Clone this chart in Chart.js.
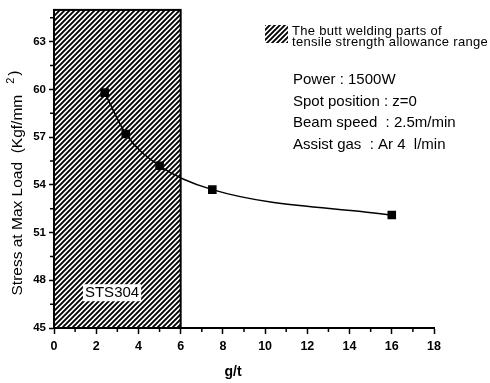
<!DOCTYPE html>
<html>
<head>
<meta charset="utf-8">
<script src="https://cdn.jsdelivr.net/npm/chart.js@4/dist/chart.umd.min.js"></script>
<style>
  html, body { margin: 0; padding: 0; background: #fff; }
</style>
</head>
<body>
<canvas id="chart" width="490" height="383"></canvas>
<script>
// Data
const gtValues = [2.4, 3.4, 5.0, 7.5, 16];
const stressValues = [59.8, 57.2, 55.2, 53.7, 52.1];
const allowanceRange = [0, 6];          // hatched g/t range
const xTicks = [0, 2, 4, 6, 8, 10, 12, 14, 16, 18];
const yTicks = [45, 48, 51, 54, 57, 60, 63];
const legendLines = ['The butt welding parts of', 'tensile strength allowance range'];
const conditionLines = ['Power : 1500W', 'Spot position : z=0', 'Beam speed  : 2.5m/min', 'Assist gas  : Ar 4  l/min'];
const materialLabel = 'STS304';
const xTitle = 'g/t';
const yTitleParts = ['Stress at Max Load  (Kgf/mm', '2', ')'];

const FONT = '"Liberation Sans", Arial, sans-serif';

// Diagonal hatch pattern (//// lines)
function makeHatch(ctx) {
    const c = document.createElement('canvas');
    c.width = 5; c.height = 5;
    const g = c.getContext('2d');
    g.fillStyle = '#fff';
    g.fillRect(0, 0, 5, 5);
    g.strokeStyle = '#000';
    g.lineWidth = 1.9;
    g.beginPath();
    g.moveTo(-1, 6); g.lineTo(6, -1);
    g.moveTo(-1, 1); g.lineTo(1, -1);
    g.moveTo(4, 6); g.lineTo(6, 4);
    g.stroke();
    return ctx.createPattern(c, 'repeat');
}

// Hatched allowance band + STS304 label
const bandPlugin = {
    id: 'band',
    beforeDatasetsDraw(chart) {
        const { ctx, chartArea, scales } = chart;
        const x0 = scales.x.getPixelForValue(allowanceRange[0]);
        const x1 = scales.x.getPixelForValue(allowanceRange[1]);
        ctx.save();
        ctx.fillStyle = makeHatch(ctx);
        ctx.fillRect(x0, chartArea.top, x1 - x0, chartArea.bottom - chartArea.top);
        ctx.strokeStyle = '#000';
        ctx.lineWidth = 2;
        ctx.strokeRect(x0, chartArea.top, x1 - x0, chartArea.bottom - chartArea.top);
        ctx.restore();
    },
    afterDatasetsDraw(chart) {
        const { ctx, scales } = chart;
        ctx.save();
        ctx.font = '15px ' + FONT;
        const cx = scales.x.getPixelForValue(2.75);
        const cy = scales.y.getPixelForValue(47.25);
        const w = ctx.measureText(materialLabel).width + 4;
        ctx.fillStyle = '#fff';
        ctx.fillRect(cx - w / 2, cy - 8, w, 17);
        ctx.fillStyle = '#000';
        ctx.textAlign = 'center';
        ctx.textBaseline = 'middle';
        ctx.fillText(materialLabel, cx, cy + 1);
        ctx.restore();
    }
};

// Minor ticks halfway between the major ones
const minorTicksPlugin = {
    id: 'minorTicks',
    afterDraw(chart) {
        const { ctx, chartArea, scales } = chart;
        ctx.save();
        ctx.strokeStyle = '#000';
        ctx.lineWidth = 1.5;
        ctx.beginPath();
        for (let i = 0; i < xTicks.length - 1; i++) {
            const x = scales.x.getPixelForValue((xTicks[i] + xTicks[i + 1]) / 2);
            ctx.moveTo(x, chartArea.bottom);
            ctx.lineTo(x, chartArea.bottom + 4);
        }
        for (let i = 0; i < yTicks.length; i++) {
            const v = yTicks[i] + 1.5;
            if (v > scales.y.max) continue;
            const y = scales.y.getPixelForValue(v);
            ctx.moveTo(chartArea.left, y);
            ctx.lineTo(chartArea.left - 4, y);
        }
        ctx.stroke();
        ctx.restore();
    }
};

// Axis titles, legend swatch and experiment conditions
const notesPlugin = {
    id: 'notes',
    afterDraw(chart) {
        const { ctx } = chart;
        ctx.save();
        ctx.fillStyle = makeHatch(ctx);
        ctx.fillRect(265, 25, 23, 18);
        ctx.fillStyle = '#000';
        ctx.textBaseline = 'middle';
        ctx.font = '13px ' + FONT;
        ctx.letterSpacing = '0.3px';
        ctx.fillText(legendLines[0], 292, 31);
        ctx.fillText(legendLines[1], 292, 42);
        ctx.letterSpacing = '0px';
        ctx.font = '15px ' + FONT;
        conditionLines.forEach((t, i) => ctx.fillText(t, 293, 80 + i * 21.5));

        // x title
        ctx.textAlign = 'center';
        ctx.font = 'bold 14px ' + FONT;
        ctx.fillText(xTitle, 233, 372);

        // y title, rotated, with raised "2"
        ctx.font = '15.5px ' + FONT;
        const gap = 11;
        const w0 = ctx.measureText(yTitleParts[0]).width;
        ctx.font = '11px ' + FONT;
        const w1 = ctx.measureText(yTitleParts[1]).width;
        ctx.font = '15.5px ' + FONT;
        const w2 = ctx.measureText(yTitleParts[2]).width;
        const total = w0 + gap + w1 + 2 + w2;
        ctx.translate(18, 183);
        ctx.rotate(-Math.PI / 2);
        ctx.textAlign = 'left';
        let x = -total / 2;
        ctx.fillText(yTitleParts[0], x, 0);
        x += w0 + gap;
        ctx.font = '11px ' + FONT;
        ctx.fillText(yTitleParts[1], x, -7);
        x += w1 + 2;
        ctx.font = '15.5px ' + FONT;
        ctx.fillText(yTitleParts[2], x, -3);
        ctx.restore();
    }
};

document.addEventListener('DOMContentLoaded', function() {
    const ctx = document.getElementById('chart').getContext('2d');
    new Chart(ctx, {
        type: 'line',
        data: {
            datasets: [{
                data: gtValues.map((x, i) => ({ x: x, y: stressValues[i] })),
                borderColor: '#000',
                borderWidth: 1.5,
                backgroundColor: '#000',
                pointStyle: 'rect',
                pointRadius: 5,
                cubicInterpolationMode: 'monotone',
                fill: false
            }]
        },
        options: {
            responsive: false,
            animation: false,
            events: [],
            layout: { padding: { top: 7, right: 56, left: 0, bottom: 0 } },
            plugins: { legend: { display: false }, tooltip: { enabled: false } },
            scales: {
                x: {
                    type: 'linear',
                    min: 0, max: 18,
                    afterBuildTicks: s => { s.ticks = xTicks.map(v => ({ value: v })); },
                    afterFit: s => { s.height = 55; },
                    grid: { drawOnChartArea: false, tickLength: 6, tickWidth: 1.5, tickColor: '#000' },
                    border: { color: '#000', width: 2 },
                    ticks: { color: '#000', padding: 5, maxRotation: 0, font: { family: FONT, size: 12.5, weight: 'bold' } }
                },
                y: {
                    min: 45, max: 65,
                    afterBuildTicks: s => { s.ticks = yTicks.map(v => ({ value: v })); },
                    afterFit: s => { s.width = 54; },
                    grid: { drawOnChartArea: false, tickLength: 5, tickWidth: 1.5, tickColor: '#000' },
                    border: { color: '#000', width: 2 },
                    ticks: { color: '#000', padding: 3, font: { family: FONT, size: 11.5, weight: 'bold' } }
                }
            }
        },
        plugins: [bandPlugin, minorTicksPlugin, notesPlugin]
    });
});
</script>
</body>
</html>
